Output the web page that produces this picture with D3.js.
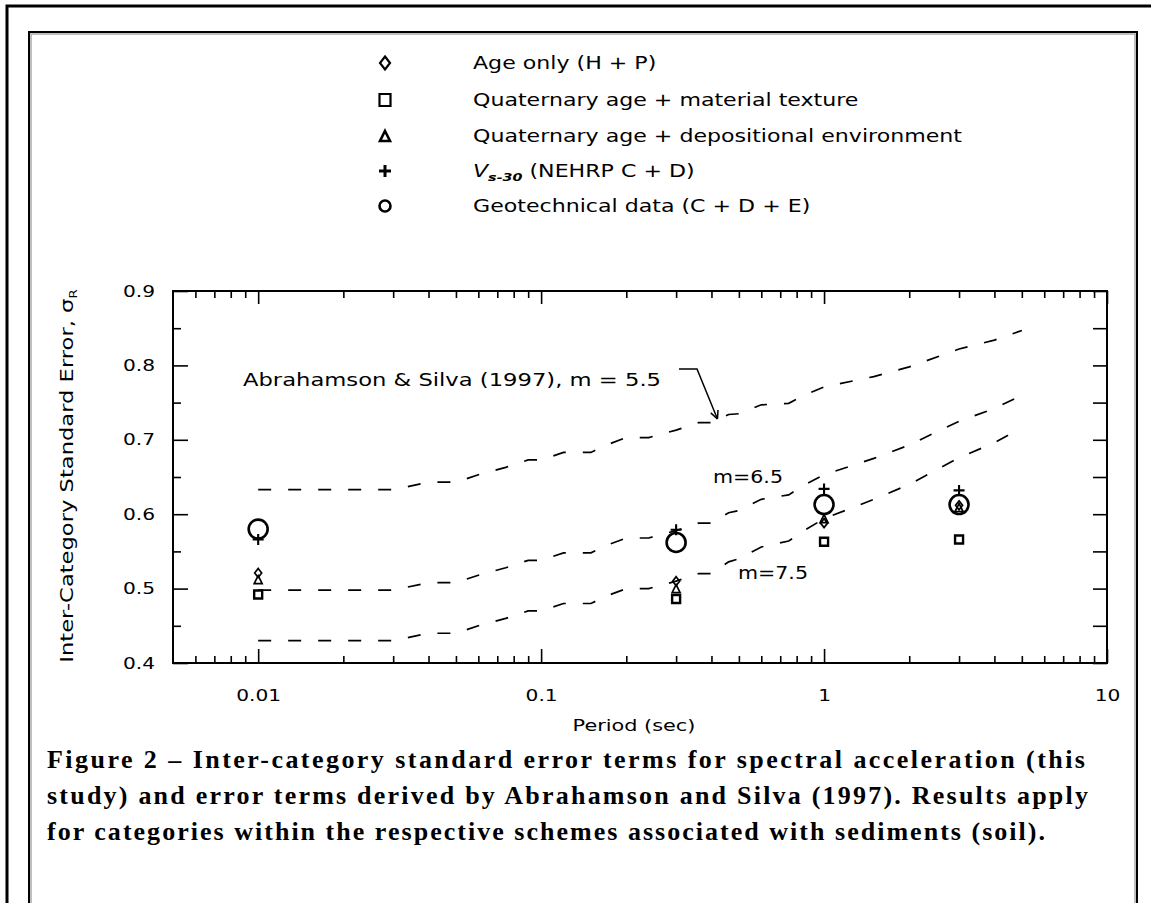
<!DOCTYPE html>
<html>
<head>
<meta charset="utf-8">
<script src="https://cdn.jsdelivr.net/npm/d3@7"></script>
<style>
    body { margin: 0; background: #fff; }
    svg { display: block; }
</style>
</head>
<body>
<svg id="chart" width="1151" height="903"></svg>
<script>
// measured points, this study
const periods = [0.01, 0.3, 1, 3];
const ageOnly = [0.521, 0.510, 0.588, 0.612];
const texture = [0.492, 0.486, 0.563, 0.566];
const depositional = [0.512, 0.500, 0.594, 0.609];
const vs30 = [0.566, 0.579, 0.634, 0.632];
const geotech = [0.580, 0.562, 0.613, 0.613];

// Abrahamson & Silva (1997) curves
const asPeriods = [0.01, 0.02, 0.03, 0.04, 0.05, 0.06, 0.075, 0.09, 0.1, 0.12, 0.15, 0.17, 0.2, 0.24,
    0.3, 0.36, 0.4, 0.46, 0.5, 0.6, 0.75, 0.85, 1, 1.5, 2, 3, 4, 5];
const asM55 = [0.633, 0.633, 0.633, 0.643, 0.643, 0.653, 0.663, 0.673, 0.673, 0.683, 0.683, 0.693, 0.703, 0.703,
    0.713, 0.723, 0.723, 0.734, 0.735, 0.747, 0.749, 0.760, 0.771, 0.785, 0.798, 0.822, 0.834, 0.847];
const asM65 = [0.498, 0.498, 0.498, 0.508, 0.508, 0.518, 0.528, 0.538, 0.538, 0.548, 0.548, 0.558, 0.568, 0.568,
    0.578, 0.588, 0.588, 0.602, 0.605, 0.620, 0.626, 0.639, 0.653, 0.675, 0.693, 0.725, 0.742, 0.760];
const asM75 = [0.430, 0.430, 0.430, 0.440, 0.440, 0.450, 0.460, 0.470, 0.470, 0.480, 0.480, 0.490, 0.500, 0.500,
    0.510, 0.520, 0.520, 0.536, 0.540, 0.556, 0.564, 0.578, 0.594, 0.620, 0.640, 0.676, 0.696, 0.716];

const xMajor = [0.01, 0.1, 1, 10];
const xMajorLabels = ["0.01", "0.1", "1", "10"];
const xMinor = [0.006, 0.007, 0.008, 0.009, 0.02, 0.03, 0.04, 0.05, 0.06, 0.07, 0.08, 0.09,
    0.2, 0.3, 0.4, 0.5, 0.6, 0.7, 0.8, 0.9, 2, 3, 4, 5, 6, 7, 8, 9];
const yMajor = [0.4, 0.5, 0.6, 0.7, 0.8, 0.9];
const yMajorLabels = ["0.4", "0.5", "0.6", "0.7", "0.8", "0.9"];
const yMinor = [0.45, 0.55, 0.65, 0.75, 0.85];

const legendLabels = ["Age only (H + P)", "Quaternary age + material texture",
    "Quaternary age + depositional environment", "V|s-30| (NEHRP C + D)", "Geotechnical data (C + D + E)"];
const captionLines = [
    "Figure 2 \u2013 Inter-category standard error terms for spectral acceleration (this",
    "study) and error terms derived by Abrahamson and Silva (1997). Results apply",
    "for categories within the respective schemes associated with sediments (soil)."
];

const SANS = "'DejaVu Sans', Verdana, sans-serif";
const svg = d3.select("#chart");
const box = { left: 173, top: 291, right: 1107, bottom: 663 };

const x = d3.scaleLog().domain([0.005, 10]).range([box.left, box.right]);
const y = d3.scaleLinear().domain([0.4, 0.9]).range([box.bottom, box.top]);

// stretch text so the narrow installed font looks like the wide original
function widen(sel, k) {
    sel.each(function () {
        const w = this.getComputedTextLength();
        d3.select(this).attr("textLength", w * k).attr("lengthAdjust", "spacingAndGlyphs");
    });
}

// page frames
svg.append("path").attr("d", "M7,903V6H1151").attr("fill", "none").attr("stroke", "#000").attr("stroke-width", 3);
svg.append("path").attr("d", "M31,903V34H1135V903").attr("fill", "none").attr("stroke", "#aaa").attr("stroke-width", 1.5);
svg.append("path").attr("d", "M29,903V32H1137V903").attr("fill", "none").attr("stroke", "#000").attr("stroke-width", 2);

// legend
const symbolPaths = {
    diamond: (w, h) => `M0,${-h / 2}L${w / 2},0L0,${h / 2}L${-w / 2},0Z`,
    square: (w, h) => `M${-w / 2},${-h / 2}h${w}v${h}h${-w}Z`,
    triangle: (w, h) => `M0,${-h / 2}L${w / 2},${h / 2}L${-w / 2},${h / 2}Z`,
    plus: (w, h) => `M${-w / 2},0H${w / 2}M0,${-h / 2}V${h / 2}`
};

const series = [
    { values: ageOnly, shape: "diamond", legend: [10, 13, 2.2], mark: [7, 9, 1.7] },
    { values: texture, shape: "square", legend: [11, 12, 2.2], mark: [8, 8, 2.4] },
    { values: depositional, shape: "triangle", legend: [10, 10, 2.6], mark: [8, 8, 1.7] },
    { values: vs30, shape: "plus", legend: [12, 12, 3], mark: [11, 11, 2.1] },
    { values: geotech, shape: "circle", legend: [11, 11, 2.6], mark: [19, 19, 2.6] }
];

function drawSymbol(g, shape, w, h, sw) {
    if (shape === "circle") {
        g.append("circle").attr("r", w / 2).attr("fill", "none").attr("stroke", "#000").attr("stroke-width", sw);
    } else {
        g.append("path").attr("d", symbolPaths[shape](w, h))
            .attr("fill", "none").attr("stroke", "#000").attr("stroke-width", sw);
    }
}

const legendRows = [63, 100, 136, 171, 206];
const legend = svg.append("g");
series.forEach((s, i) => {
    const row = legend.append("g").attr("transform", `translate(0,${legendRows[i]})`);
    drawSymbol(row.append("g").attr("transform", "translate(385,0)"), s.shape, ...s.legend);
    const t = row.append("text").attr("x", 473).attr("y", 6)
        .attr("font-family", SANS).attr("font-size", 17).attr("fill", "#000");
    legendLabels[i].split("|").forEach((part, j) => {
        const ts = t.append("tspan").text(part);
        if (legendLabels[i].includes("|")) {
            if (j === 0) ts.attr("font-style", "italic");
            if (j === 1) ts.attr("font-style", "italic").attr("font-weight", "bold")
                .attr("font-size", 11).attr("dy", 4);
            if (j === 2) ts.attr("dy", -4);
        }
    });
    widen(t, 1.3);
});

// axes
const axes = svg.append("g").attr("stroke-width", 1.6);

axes.append("g").attr("transform", `translate(0,${box.bottom})`)
    .call(d3.axisBottom(x).tickValues(xMajor).tickFormat((d, i) => xMajorLabels[i])
        .tickSizeInner(-14).tickSizeOuter(0).tickPadding(27));
axes.append("g").attr("transform", `translate(0,${box.bottom})`)
    .call(d3.axisBottom(x).tickValues(xMinor).tickFormat("").tickSizeInner(-7).tickSizeOuter(0));
axes.append("g").attr("transform", `translate(0,${box.top})`)
    .call(d3.axisTop(x).tickValues(xMajor).tickFormat("").tickSizeInner(-13).tickSizeOuter(0));
axes.append("g").attr("transform", `translate(0,${box.top})`)
    .call(d3.axisTop(x).tickValues(xMinor).tickFormat("").tickSizeInner(-7).tickSizeOuter(0));
axes.append("g").attr("transform", `translate(${box.left},0)`)
    .call(d3.axisLeft(y).tickValues(yMajor).tickFormat((d, i) => yMajorLabels[i])
        .tickSizeInner(-15).tickSizeOuter(0).tickPadding(18));
axes.append("g").attr("transform", `translate(${box.left},0)`)
    .call(d3.axisLeft(y).tickValues(yMinor).tickFormat("").tickSizeInner(-8).tickSizeOuter(0));
axes.append("g").attr("transform", `translate(${box.right},0)`)
    .call(d3.axisRight(y).tickValues(yMajor.concat(yMinor)).tickFormat("").tickSizeInner(-14).tickSizeOuter(0));

axes.selectAll(".domain").remove();
axes.selectAll(".tick line").attr("stroke", "#000").attr("stroke-width", 1.6);
axes.selectAll(".tick text").attr("font-family", SANS).attr("font-size", 16).attr("fill", "#000");
widen(axes.selectAll(".tick text"), 1.26);

svg.append("rect")
    .attr("x", box.left).attr("y", box.top)
    .attr("width", box.right - box.left).attr("height", box.bottom - box.top)
    .attr("fill", "none").attr("stroke", "#000").attr("stroke-width", 2);

// axis titles
const yTitle = svg.append("text")
    .attr("transform", "translate(73,476) rotate(-90)")
    .attr("text-anchor", "middle")
    .attr("font-family", SANS).attr("font-size", 17).attr("fill", "#000");
yTitle.append("tspan").text("Inter-Category Standard Error, \u03c3");
yTitle.append("tspan").text("R").attr("font-size", 10).attr("dy", 4);
widen(yTitle, 1.33);

const xTitle = svg.append("text").attr("x", 634).attr("y", 731)
    .attr("text-anchor", "middle")
    .attr("font-family", SANS).attr("font-size", 16).attr("fill", "#000")
    .text("Period (sec)");
widen(xTitle, 1.3);

// Abrahamson & Silva curves
const line = d3.line().x((d, i) => x(asPeriods[i])).y(d => y(d));
[asM55, asM65, asM75].forEach(vals => {
    svg.append("path").attr("d", line(vals))
        .attr("fill", "none").attr("stroke", "#000").attr("stroke-width", 1.7)
        .attr("stroke-dasharray", "13,17");
});

// annotations
svg.append("text").attr("x", 243).attr("y", 386)
    .attr("font-family", SANS).attr("font-size", 18).attr("fill", "#000")
    .attr("textLength", 418).attr("lengthAdjust", "spacingAndGlyphs")
    .text("Abrahamson & Silva (1997), m = 5.5");
svg.append("text").attr("x", 713).attr("y", 483)
    .attr("font-family", SANS).attr("font-size", 17).attr("fill", "#000")
    .attr("textLength", 70).attr("lengthAdjust", "spacingAndGlyphs")
    .text("m=6.5");
svg.append("text").attr("x", 738).attr("y", 579)
    .attr("font-family", SANS).attr("font-size", 17).attr("fill", "#000")
    .attr("textLength", 70).attr("lengthAdjust", "spacingAndGlyphs")
    .text("m=7.5");

const tip = [x(0.42), y(0.724) - 3];
const knee = [697, 369];
svg.append("path").attr("d", `M679,369H${knee[0]}L${tip[0]},${tip[1]}`)
    .attr("fill", "none").attr("stroke", "#000").attr("stroke-width", 1.5);
const ang = Math.atan2(tip[1] - knee[1], tip[0] - knee[0]);
const head = [ang + Math.PI - 0.45, ang + Math.PI + 0.45]
    .map(a => `M${tip[0]},${tip[1]}l${9 * Math.cos(a)},${9 * Math.sin(a)}`).join("");
svg.append("path").attr("d", head).attr("fill", "none").attr("stroke", "#000").attr("stroke-width", 1.5);

// data markers
const marks = svg.append("g");
series.forEach(s => {
    s.values.forEach((v, i) => {
        const g = marks.append("g").attr("transform", `translate(${x(periods[i])},${y(v)})`);
        drawSymbol(g, s.shape, ...s.mark);
    });
});

// caption
const captionWidths = [1038, 1041, 998];
captionLines.forEach((txt, i) => {
    svg.append("text").attr("x", 47).attr("y", 768 + i * 36)
        .attr("font-family", "'Liberation Serif', 'Times New Roman', serif")
        .attr("font-weight", "bold").attr("font-size", 26).attr("fill", "#000")
        .attr("textLength", captionWidths[i])
        .text(txt);
});
</script>
</body>
</html>
